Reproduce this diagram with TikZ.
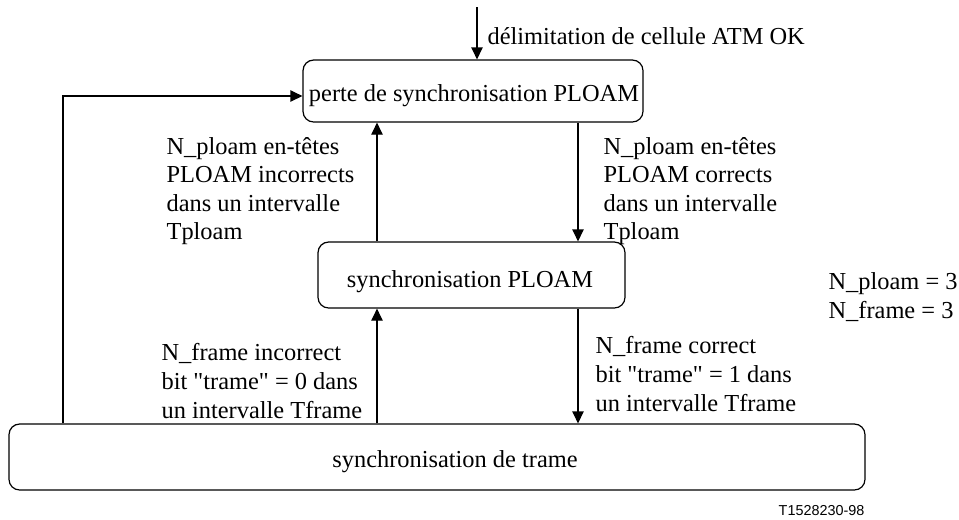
\documentclass[tikz,border=0pt]{standalone}
\usepackage{fontspec}
\setmainfont{Liberation Serif}[Ligatures=TeXOff]
\newfontfamily\labelsans{Liberation Sans}
\usetikzlibrary{arrows.meta}
\begin{document}
\begin{tikzpicture}[x=0.75pt,y=-0.75pt,
  font=\fontsize{18.3}{21.4}\selectfont,
  line width=0.9pt,
  statebox/.style={draw, rounded corners=8pt, line width=0.9pt},
  arr/.style={-{Triangle[length=9pt,width=8.5pt]}},
  lbl/.style={anchor=west, align=left, inner sep=0pt}]
\useasboundingbox (0,0) rectangle (959,519);
% state boxes
\draw[statebox] (303,60) rectangle (643,122);
\draw[statebox] (318,242) rectangle (625,308);
\draw[statebox] (9,424) rectangle (865,490);
\node[inner sep=0pt, minimum width=340*0.75pt, minimum height=62*0.75pt] (topbox) at (473,91) {};
\node[inner sep=0pt, minimum width=307*0.75pt, minimum height=66*0.75pt] (midbox) at (471.5,275) {};
\node[inner sep=0pt, minimum width=856*0.75pt, minimum height=66*0.75pt] (botbox) at (437,457) {};
\node[inner sep=0pt] (toptxt) at (474,96) {perte de synchronisation PLOAM};
\node[inner sep=0pt] (midtxt) at (470,282) {synchronisation PLOAM};
\node[inner sep=0pt] (bottxt) at (455,462) {synchronisation de trame};
% entry
\coordinate (start) at (477,7);
\draw[arr] (start) -- (topbox.north -| start);
\node[lbl] (entrylbl) at (487,36) {délimitation de cellule ATM OK};
% transitions
\coordinate (upx) at (377,0);
\coordinate (dnx) at (578,0);
\draw[arr] (midbox.north -| upx) -- (topbox.south -| upx);
\draw[arr] (topbox.south -| dnx) -- (midbox.north -| dnx);
\draw[arr] (botbox.north -| upx) -- (midbox.south -| upx);
\draw[arr] (midbox.south -| dnx) -- (botbox.north -| dnx);
\coordinate (loopx) at (63,96);
\draw[arr] (botbox.north -| loopx) -- (loopx) -- (topbox.west |- loopx);
% labels
\node[lbl] (l1) at (166,191) {N\_ploam en-têtes\\PLOAM incorrects\\dans un intervalle\\Tploam};
\node[lbl] (l2) at (603,191) {N\_ploam en-têtes\\PLOAM corrects\\dans un intervalle\\Tploam};
\node[lbl] (l3) at (161,381) {N\_frame incorrect\\bit "trame" = 0 dans\\un intervalle Tframe};
\node[lbl] (l4) at (595,374) {N\_frame correct\\bit "trame" = 1 dans\\un intervalle Tframe};
\node[lbl] (params) at (828,297) {N\_ploam = 3\\N\_frame = 3};
\node[anchor=east, inner sep=0pt, font=\labelsans\fontsize{10.8}{12}\selectfont] (ref) at (865,511) {T1528230-98};
\end{tikzpicture}
\end{document}
